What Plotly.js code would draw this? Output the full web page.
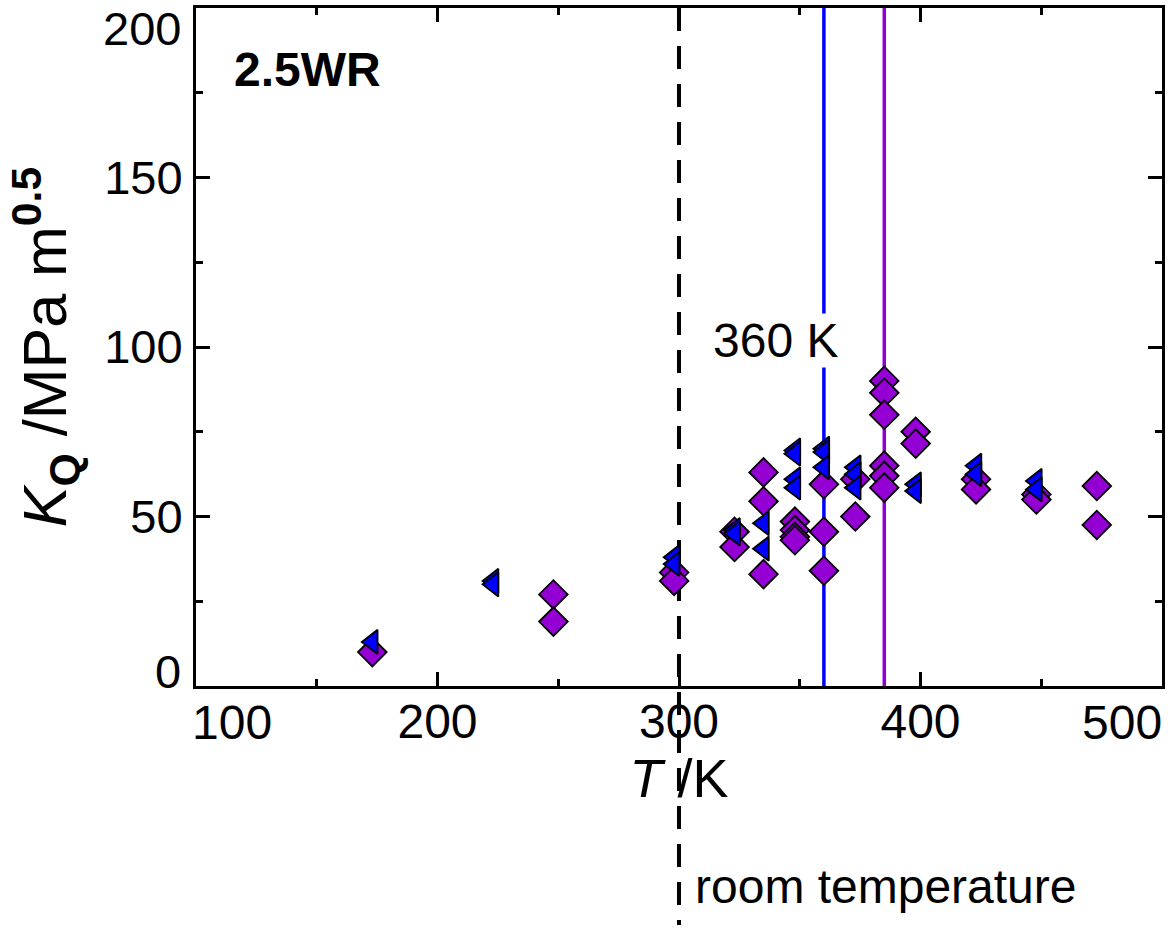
<!DOCTYPE html>
<html>
<head>
<meta charset="utf-8">
<script src="https://cdn.plot.ly/plotly-3.0.1.min.js"></script>
<style>html,body{margin:0;padding:0;background:#fff;}#chart{width:1168px;height:938px;}</style>
</head>
<body>
<div id="chart"></div>
<script>
// Blue triangles (left-pointing)
const triT = [173, 223, 223, 298, 298, 323, 323, 335, 335, 348, 348, 348, 348, 360, 360, 360, 373, 373, 373, 398, 398, 423, 423, 448, 448];
const triK = [13, 31, 30, 38, 36, 46, 45, 48, 40.5, 69.5, 68.5, 61, 58.5, 70, 69, 64.5, 64.5, 62.5, 58.5, 59.5, 57.5, 65, 62.5, 60.5, 58];
// Purple diamonds
const diaT = [173, 248, 248, 298, 298, 323, 323, 335, 335, 335, 348, 348, 348, 348, 360, 360, 360, 373, 373, 385, 385, 385, 385, 385, 385, 398, 398, 423, 423, 448, 448, 473, 473];
const diaK = [10, 27, 19, 33.5, 31, 45.5, 41, 63, 54.5, 33, 48.5, 46, 44, 43, 59.5, 45.5, 34, 61, 50, 90, 86.5, 80, 65, 62, 58.5, 75, 71.5, 61, 58, 56.5, 55, 59, 47.5];
// Reference lines
const roomT = 300;
const blueLineT = 360;
const purpleLineT = 385;
// Tick labels
const xTickVals = [100, 200, 300, 400, 500];
const xTickText = ['100', '200', '300', '400', '500'];
const yTickVals = [0, 50, 100, 150, 200];
const yTickText = ['0', '50', '100', '150', '200'];

const FONT = 'Liberation Sans, Arial, sans-serif';
const PURPLE = '#9400D3';
const BLUE = '#0000FF';

const traces = [
  {x: diaT, y: diaK, type: 'scatter', mode: 'markers', cliponaxis: false,
   marker: {symbol: 'diamond', size: 22, color: PURPLE, line: {color: '#000', width: 1.8}}},
  {x: triT, y: triK, type: 'scatter', mode: 'markers', cliponaxis: false,
   marker: {symbol: 'triangle-left', size: 21, color: BLUE, line: {color: '#000', width: 1.8}}}
];

const innerX = xTickVals.slice(1, -1), innerXT = xTickText.slice(1, -1);
const innerY = yTickVals.slice(1, -1), innerYT = yTickText.slice(1, -1);

const annotations = [
  {x: 115, y: 182, xref: 'x', yref: 'y', text: '<b>2.5WR</b>', showarrow: false, xanchor: 'left', yanchor: 'middle',
   font: {family: FONT, size: 48, color: '#000'}},
  {x: 340, y: 102, xref: 'x', yref: 'y', text: '360 K', showarrow: false, xanchor: 'center', yanchor: 'middle',
   bgcolor: '#fff', borderpad: 0, font: {family: FONT, size: 48, color: '#000'}},
  {x: roomT, y: -0.296, xref: 'x', yref: 'paper', text: 'room temperature', showarrow: false, xanchor: 'left', yanchor: 'middle',
   xshift: 14, font: {family: FONT, size: 48, color: '#000'}},
  {x: xTickVals[0], y: 0, xref: 'x', yref: 'paper', text: xTickText[0], showarrow: false, xanchor: 'left', yanchor: 'top',
   xshift: -6, yshift: -8, font: {family: FONT, size: 48, color: '#000'}},
  {x: xTickVals[xTickVals.length - 1], y: 0, xref: 'x', yref: 'paper', text: xTickText[xTickText.length - 1], showarrow: false, xanchor: 'right', yanchor: 'top',
   xshift: 2, yshift: -8, font: {family: FONT, size: 48, color: '#000'}},
  {x: 0, y: yTickVals[0], xref: 'paper', yref: 'y', text: yTickText[0], showarrow: false, xanchor: 'right', yanchor: 'bottom',
   xshift: -13, yshift: -14, font: {family: FONT, size: 47, color: '#000'}},
  {x: 0, y: yTickVals[yTickVals.length - 1], xref: 'paper', yref: 'y', text: yTickText[yTickText.length - 1], showarrow: false, xanchor: 'right', yanchor: 'top',
   xshift: -13, yshift: 8, font: {family: FONT, size: 47, color: '#000'}}
];

const shapes = [
  {type: 'line', xref: 'x', yref: 'paper', x0: roomT, x1: roomT, y0: 1, y1: -0.3525, layer: 'below',
   line: {color: '#000', width: 4, dash: '23px,15px'}},
  {type: 'line', xref: 'x', yref: 'paper', x0: blueLineT, x1: blueLineT, y0: 0, y1: 1, layer: 'below',
   line: {color: BLUE, width: 3.5}},
  {type: 'line', xref: 'x', yref: 'paper', x0: purpleLineT, x1: purpleLineT, y0: 0, y1: 1, layer: 'below',
   line: {color: PURPLE, width: 3.5}}
];

const axisCommon = {
  showline: true, linewidth: 3, linecolor: '#000', mirror: 'ticks',
  ticks: 'inside', ticklen: 14, tickwidth: 3, tickcolor: '#000',
  showgrid: false, zeroline: false, fixedrange: true
};

const layout = {
  width: 1168, height: 938,
  margin: {l: 196, r: 6, t: 8, b: 252},
  paper_bgcolor: '#fff', plot_bgcolor: '#fff',
  showlegend: false,
  font: {family: FONT, color: '#000'},
  xaxis: Object.assign({}, axisCommon, {
    range: [100, 500], tickmode: 'array', tickvals: innerX, ticktext: innerXT,
    tickfont: {family: FONT, size: 48}, ticklabelstandoff: -9,
    minor: {tickmode: 'linear', tick0: 0, dtick: 50, ticks: 'inside', ticklen: 7, tickwidth: 3, tickcolor: '#000'},
    title: {text: '<i>T</i> /K', font: {family: FONT, size: 54}, standoff: 4}
  }),
  yaxis: Object.assign({}, axisCommon, {
    range: [0, 200], tickmode: 'array', tickvals: innerY, ticktext: innerYT,
    tickfont: {family: FONT, size: 47}, ticklabelstandoff: 1,
    minor: {tickmode: 'linear', tick0: 0, dtick: 25, ticks: 'inside', ticklen: 7, tickwidth: 3, tickcolor: '#000'},
    title: {text: '<i>K</i><sub><b>Q</b></sub> /MPa m<sup><b>0.5</b></sup>', font: {family: FONT, size: 61}, standoff: 18}
  }),
  annotations: annotations,
  shapes: shapes
};

Plotly.newPlot('chart', traces, layout, {displayModeBar: false, staticPlot: true});
</script>
</body>
</html>
